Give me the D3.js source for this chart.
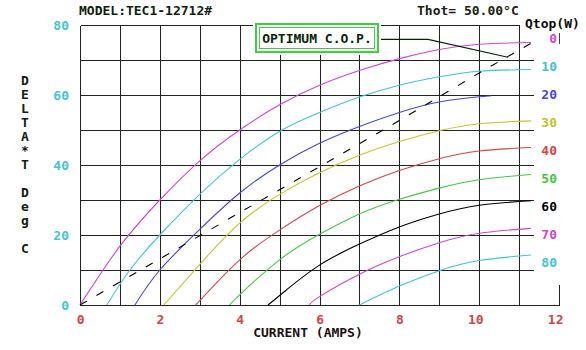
<!DOCTYPE html>
<html lang="en">
<head>
    <meta charset="UTF-8">
    <title>TEC1-12712 Performance</title>
    <script src="https://d3js.org/d3.v7.min.js"></script>
    <style>
        body { margin: 0; background: #fff; }
        text { font-family: "DejaVu Sans Mono", "Liberation Mono", monospace; font-weight: bold; font-size: 13px; }
        .grid { stroke: #222; stroke-width: 1px; shape-rendering: crispEdges; fill: none; }
        .curve { fill: none; stroke-width: 1.1px; }
    </style>
</head>
<body>
<svg id="chart" width="586" height="350"></svg>

<script>
    // Qtop curves: [current (A), delta T (deg C)]
    const qtopLabels = [0, 10, 20, 30, 40, 50, 60, 70, 80];
    const qtopColors = ["#d444d4", "#40c4d4", "#4444e4", "#c4c42c", "#d84444", "#44c844", "#000000", "#d444d4", "#40c4d4"];

    const q0  = [[0,0],[1,16.8],[2,30],[3,41.2],[4,50],[5,57.2],[6,62.8],[7,67],[8,70.4],[9,73],[10,74.5],[11.3,75]];
    const q10 = [[0.67,0],[1.25,10],[2,20],[3,31.6],[4,41.6],[5,49.6],[6,55],[7,59.4],[8,62.8],[9,65.2],[10,66.8],[11.3,67.3]];
    const q20 = [[1.375,0],[2,10],[3,21.6],[4,32],[5,40],[6,46.2],[7,51],[8,55],[9,58],[10,59.5],[10.3,59.8]];
    const q30 = [[2.1,0],[3,11.6],[4,23.4],[5,31.6],[6,37.8],[7,42.8],[8,46.7],[9,49.8],[10,51.8],[11.3,52.6]];
    const q40 = [[2.9,0],[4,12.9],[5,21.4],[6,28.4],[7,34],[8,38.4],[9,41.8],[10,44],[11.3,45]];
    const q50 = [[3.75,0],[4,2.9],[5,12.9],[6,20.2],[7,26],[8,30.2],[9,33.4],[10,35.8],[11.3,37.3]];
    const q60 = [[4.71,0],[5.17,4.3],[6,11.4],[7,17.4],[8,22.3],[9,26],[10,28.5],[11.3,29.8]];
    const q70 = [[5.75,0],[6,2.4],[7,8.8],[8,13.8],[9,17.8],[10,20.5],[11.3,21.9]];
    const q80 = [[7,0],[8,5.4],[9,9.8],[10,12.7],[11.3,14.3]];
    const curves = [q0, q10, q20, q30, q40, q50, q60, q70, q80];

    // optimum C.O.P. line
    const copLine = [[0,0],[2,13.2],[4,26.4],[6,39.5],[8,52.7],[10,66.3],[11.3,74.8]];
    const copLeader = [[7.54,75.9],[8.72,75.9],[10.72,70.8]];

    const xTicks = [0, 2, 4, 6, 8, 10, 12];
    const yTicks = [0, 20, 40, 60, 80];
    const xGrid = d3.range(0, 12);      // full height lines 0..11
    const yGrid = [10, 20, 30, 40, 50, 60, 70];
    const yTitle = "DELTA*T Deg C";

    const svg = d3.select("#chart");
    const x = d3.scaleLinear().domain([0, 12]).range([80, 559]);
    const y = d3.scaleLinear().domain([0, 80]).range([305, 25]);
    const px = v => Math.round(x(v)) + 0.5;
    const py = v => Math.round(y(v)) + 0.5;

    // grid
    const grid = svg.append("g");
    grid.selectAll(".vg").data(xGrid).join("line")
        .attr("class", "grid")
        .attr("x1", d => px(d)).attr("x2", d => px(d))
        .attr("y1", py(80)).attr("y2", py(0));
    grid.append("line").attr("class", "grid")
        .attr("x1", px(12)).attr("x2", px(12))
        .attr("y1", py(6)).attr("y2", py(0));
    grid.selectAll(".hg").data(yGrid).join("line")
        .attr("class", "grid")
        .attr("x1", px(0)).attr("x2", px(11.35))
        .attr("y1", d => py(d)).attr("y2", d => py(d));
    grid.append("line").attr("class", "grid")
        .attr("x1", px(0)).attr("x2", px(11))
        .attr("y1", py(80)).attr("y2", py(80));
    grid.append("line").attr("class", "grid")
        .attr("x1", px(0)).attr("x2", px(12))
        .attr("y1", py(0)).attr("y2", py(0));

    // curves
    const line = d3.line()
        .x(d => x(d[0]))
        .y(d => y(d[1]))
        .curve(d3.curveNatural);

    svg.append("g").selectAll("path").data(curves).join("path")
        .attr("class", "curve")
        .attr("stroke", (d, i) => qtopColors[i])
        .attr("d", line);

    svg.append("path")
        .attr("fill", "none")
        .attr("stroke", "#000")
        .attr("stroke-width", 1.1)
        .attr("stroke-dasharray", "8,11")
        .attr("d", d3.line().x(d => x(d[0])).y(d => y(d[1]))(copLine));

    svg.append("path")
        .attr("fill", "none")
        .attr("stroke", "#0a200a")
        .attr("stroke-width", 1.1)
        .attr("d", d3.line().x(d => x(d[0])).y(d => y(d[1]))(copLeader));

    // optimum C.O.P. box
    const box = svg.append("g");
    box.append("rect").attr("x", 253).attr("y", 21).attr("width", 128).attr("height", 34).attr("fill", "#fff");
    box.append("rect").attr("x", 256).attr("y", 24).attr("width", 122).attr("height", 28)
        .attr("fill", "none").attr("stroke", "#44cc44").attr("stroke-width", 2);
    box.append("rect").attr("x", 259.5).attr("y", 27.5).attr("width", 115).attr("height", 21)
        .attr("fill", "none").attr("stroke", "#44cc44").attr("stroke-width", 1);
    box.append("text").attr("x", 317).attr("y", 43).attr("text-anchor", "middle")
        .attr("fill", "#0a260a").text("OPTIMUM C.O.P.");

    // tick labels
    svg.append("g").selectAll("text").data(xTicks).join("text")
        .attr("x", d => x(d) + 4.5).attr("y", 323.5)
        .attr("text-anchor", "end")
        .attr("fill", "#d44444")
        .text(d => d);
    svg.append("g").selectAll("text").data(yTicks).join("text")
        .attr("x", 69).attr("y", d => y(d) + 4.5)
        .attr("text-anchor", "end")
        .attr("fill", "#44c4d4")
        .text(d => d);

    // Qtop legend labels
    svg.append("text").attr("x", 525).attr("y", 28).attr("fill", "#0a0a0a").text("Qtop(W)");
    svg.append("g").selectAll("text").data(qtopLabels).join("text")
        .attr("x", 557).attr("y", (d, i) => 43 + 28 * i)
        .attr("text-anchor", "end")
        .attr("fill", (d, i) => qtopColors[i])
        .text(d => d);
    svg.append("line").attr("x1", 559.5).attr("x2", 559.5).attr("y1", 33).attr("y2", 44)
        .attr("stroke", "#444").attr("stroke-width", 1);

    // titles
    svg.append("text").attr("x", 79).attr("y", 15).attr("fill", "#102010").text("MODEL:TEC1-12712#");
    svg.append("text").attr("x", 417).attr("y", 15).attr("fill", "#202010").text("Thot= 50.00°C");
    svg.append("text").attr("x", 308).attr("y", 337).attr("text-anchor", "middle")
        .attr("fill", "#201010").text("CURRENT (AMPS)");

    svg.append("g").selectAll("text").data(yTitle.split("")).join("text")
        .attr("x", 25).attr("y", (d, i) => 85 + 14 * i)
        .attr("text-anchor", "middle")
        .attr("fill", "#102010")
        .text(d => d);
</script>
</body>
</html>
